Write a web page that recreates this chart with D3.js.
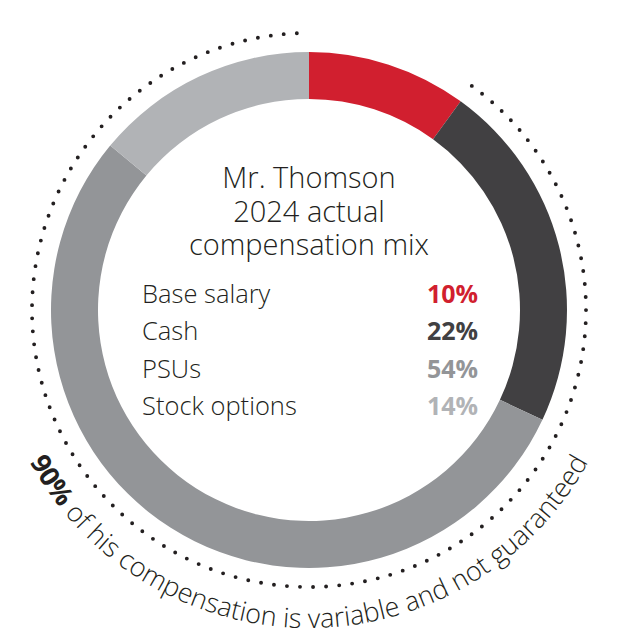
<!DOCTYPE html>
<html>
<head>
<meta charset="utf-8">
<script src="https://cdn.jsdelivr.net/npm/d3@7"></script>
<style>
  body { margin: 0; background: #fff; }
  svg { display: block; font-family: "Open Sans", "Noto Sans", sans-serif; }
</style>
</head>
<body>
<div id="chart"></div>
<script>
// data
const categories = ["Base salary", "Cash", "PSUs", "Stock options"];
const shares = [10, 22, 54, 14];
const titleLines = ["Mr. Thomson", "2024 actual", "compensation mix"];
const noteText = "of his compensation is variable and not guaranteed";

const width = 620;
const height = 636;
const cx = 309, cy = 310;
const innerR = 211, outerR = 258;
const dotR = 277, noteR = 318;

const color = d3.scaleOrdinal()
  .domain(categories)
  .range(["#d11f2f", "#414042", "#939598", "#b1b3b6"]);

const svg = d3.select("#chart").append("svg")
  .attr("width", width)
  .attr("height", height)
  .attr("viewBox", [0, 0, width, height]);

const g = svg.append("g").attr("transform", `translate(${cx},${cy})`);

const rows = categories.map((c, i) => ({ category: c, share: shares[i] }));
const arcs = d3.pie().sort(null).value(d => d.share)(rows);
const arc = d3.arc().innerRadius(innerR).outerRadius(outerR);

// ring
g.selectAll("path.slice")
  .data(arcs)
  .join("path")
  .attr("class", "slice")
  .attr("d", arc)
  .attr("fill", d => color(d.data.category));

// dotted arc over the variable part (everything after base salary)
const varStart = arcs[0].endAngle;
const varEnd = 2 * Math.PI;
const dp = d3.path();
dp.arc(0, 0, dotR, varStart - Math.PI / 2, varEnd - Math.PI / 2);
const dotLen = dotR * (varEnd - varStart);
const gap = dotLen / Math.round(dotLen / 13);
g.append("path")
  .attr("d", dp.toString())
  .attr("fill", "none")
  .attr("stroke", "#231f20")
  .attr("stroke-width", 3.9)
  .attr("stroke-linecap", "round")
  .attr("stroke-dasharray", `0 ${gap}`);

// title
g.append("g")
  .selectAll("text")
  .data(titleLines)
  .join("text")
  .attr("x", 0)
  .attr("y", (d, i) => -122 + i * 33.5)
  .attr("text-anchor", "middle")
  .attr("font-size", 29)
  .attr("font-weight", 300)
  .attr("fill", "#231f20")
  .text(d => d);

// legend rows
const rowY = d3.scalePoint().domain(categories).range([-7, 105]);
const legend = g.append("g")
  .selectAll("g")
  .data(rows)
  .join("g")
  .attr("transform", d => `translate(0,${rowY(d.category)})`);

legend.append("text")
  .attr("x", -167)
  .attr("font-size", 25.5)
  .attr("font-weight", 300)
  .attr("fill", "#231f20")
  .text(d => d.category);

legend.append("text")
  .attr("x", 169)
  .attr("text-anchor", "end")
  .attr("font-size", 25)
  .attr("font-weight", 700)
  .attr("fill", d => color(d.category))
  .text(d => `${d.share}%`);

// curved note along the bottom
const noteStart = 241.5 * Math.PI / 180;
const noteEnd = 118.5 * Math.PI / 180;
const np = d3.path();
np.arc(0, 0, noteR, noteStart - Math.PI / 2, noteEnd - Math.PI / 2, true);
g.append("defs").append("path")
  .attr("id", "notePath")
  .attr("d", np.toString());

const variable = d3.sum(rows.slice(1), d => d.share);
const note = g.append("text")
  .attr("font-size", 24)
  .attr("fill", "#231f20");
const tp = note.append("textPath")
  .attr("href", "#notePath")
  .attr("startOffset", "50%")
  .attr("text-anchor", "middle");
tp.append("tspan").attr("font-weight", 700).text(`${variable}%`);
tp.append("tspan").attr("font-weight", 300).text(" " + noteText);

// fit the note to the arc
const target = noteR * (noteStart - noteEnd);
const measured = note.node().getComputedTextLength();
if (measured > 0) note.attr("font-size", 24 * target / measured);
</script>
</body>
</html>
